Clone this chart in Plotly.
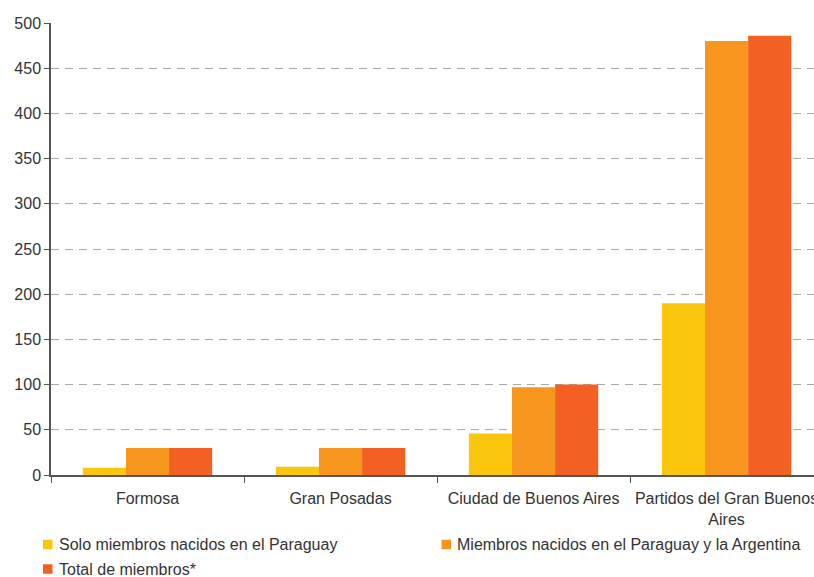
import plotly.graph_objs as go

# Data
regions = ['Formosa', 'Gran Posadas', 'Ciudad de Buenos Aires',
           'Partidos del Gran Buenos<br>Aires']
solo_paraguay = [8, 9, 46, 190]
paraguay_argentina = [30, 30, 97, 480]
total_miembros = [30, 30, 100, 486]
y_ticks = [0, 50, 100, 150, 200, 250, 300, 350, 400, 450, 500]

series_names = ['Solo miembros nacidos en el Paraguay',
                'Miembros nacidos en el Paraguay y la Argentina',
                'Total de miembros*']
series_values = [solo_paraguay, paraguay_argentina, total_miembros]
series_colors = ['#FAC70E', '#F6961F', '#F26023']

W, H = 814, 577
L, R, T, B = 51, 0, 23, 102
plot_w = W - L - R
plot_h = H - T - B


def px_x(px):
    return (px - L) / plot_w


def px_y(py):
    return (H - B - py) / plot_h


fig = go.Figure()

for name, values, color in zip(series_names, series_values, series_colors):
    fig.add_trace(go.Bar(
        x=regions,
        y=values,
        name=name,
        marker=dict(color=color, line=dict(width=0)),
    ))

# Hand-placed legend (square + label), two columns then wrap
legend_pos = [(43, 544.5), (441.5, 544.5), (43, 569)]
for (lx, ly), name, color in zip(legend_pos, series_names, series_colors):
    fig.add_shape(
        type='rect', xref='paper', yref='paper',
        x0=px_x(lx), x1=px_x(lx + 9.5),
        y0=px_y(ly + 4.75), y1=px_y(ly - 4.75),
        fillcolor=color, line=dict(width=0),
    )
    fig.add_annotation(
        x=px_x(lx + 13.5), y=px_y(ly), xref='paper', yref='paper',
        text=name, showarrow=False, xanchor='left', yanchor='middle',
        font=dict(size=16, color='#333333'),
    )

fig.update_layout(
    barmode='group',
    bargap=0.33,
    bargroupgap=0,
    width=W,
    height=H,
    margin=dict(l=L, r=R, t=T, b=B, autoexpand=False),
    plot_bgcolor='white',
    paper_bgcolor='white',
    font=dict(family='Liberation Sans, Arial, sans-serif', size=16, color='#333333'),
    showlegend=False,
)

fig.update_xaxes(
    range=[-0.5, 3.453],
    automargin=False,
    showline=True, linecolor='#555555', linewidth=1.5,
    ticks='outside', tickson='boundaries', ticklen=6,
    tickcolor='#555555', showgrid=False,
    ticklabelstandoff=8,
)

fig.update_yaxes(
    range=[0, 500],
    tickvals=y_ticks,
    automargin=False,
    showline=True, linecolor='#555555', linewidth=1.5,
    ticks='outside', ticklen=5, tickcolor='#555555',
    showgrid=True, gridcolor='#AAAAAA', gridwidth=1, griddash='8px,6px',
    zeroline=False,
)

# drop the default page margin so the 814x577 figure fills the window
fig.write_html("out.html",
               config={'displayModeBar': False},
               post_script="document.body.style.margin='0';"
                           "document.body.style.overflow='hidden';")
